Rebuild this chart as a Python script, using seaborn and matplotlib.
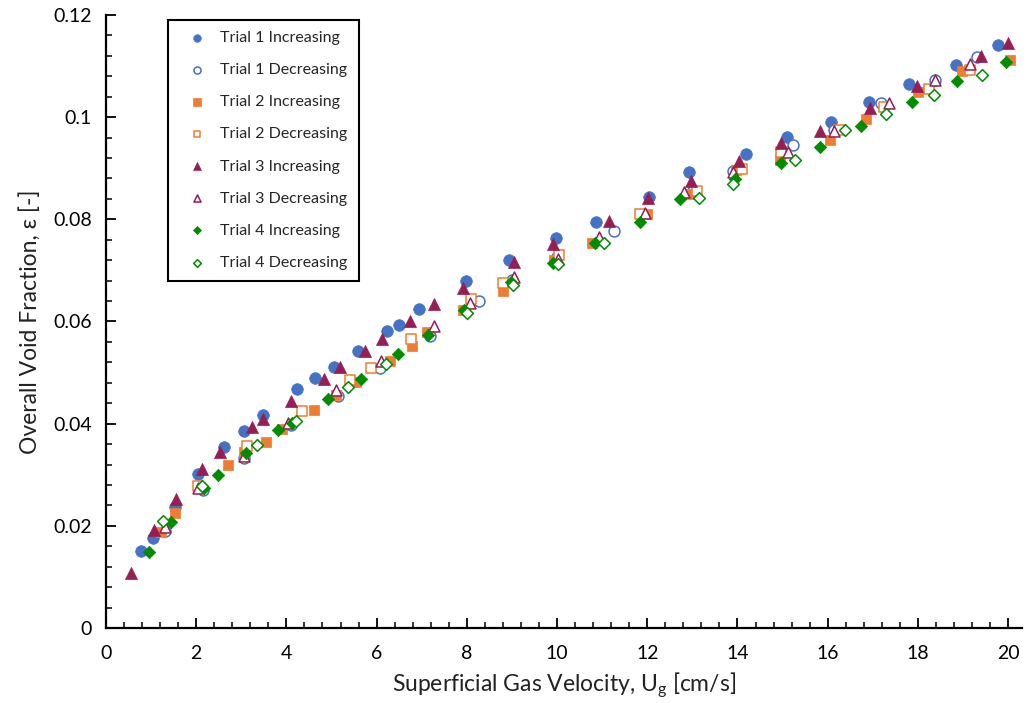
import numpy as np
import pandas as pd
import matplotlib
matplotlib.use("Agg")
import matplotlib.pyplot as plt
from matplotlib.ticker import MultipleLocator, FuncFormatter
import seaborn as sns

# Overall void fraction vs superficial gas velocity, four trials, up/down sweeps
t1_inc_x = [0.77, 1.05, 1.53, 2.03, 2.62, 3.06, 3.47, 4.24, 4.63, 5.05, 5.59, 6.24, 6.50, 6.93,
            7.98, 8.93, 9.98, 10.86, 12.04, 12.93, 14.19, 15.09, 16.07, 16.92, 17.81, 18.85, 19.78]
t1_inc_y = [0.0151, 0.0177, 0.0237, 0.0301, 0.0355, 0.0386, 0.0416, 0.0467, 0.0490, 0.0511, 0.0542,
            0.0581, 0.0593, 0.0625, 0.0679, 0.0720, 0.0764, 0.0794, 0.0844, 0.0893, 0.0927, 0.0962,
            0.0991, 0.1030, 0.1065, 0.1102, 0.1141]

t1_dec_x = [19.30, 18.37, 17.19, 16.13, 15.23, 13.89, 13.02, 11.27, 10.01, 9.01, 8.26, 7.18, 6.08,
            5.14, 4.10, 3.07, 2.14, 1.31]
t1_dec_y = [0.1117, 0.1073, 0.1027, 0.0975, 0.0945, 0.0895, 0.0855, 0.0777, 0.0726, 0.0681, 0.0641,
            0.0572, 0.0508, 0.0455, 0.0397, 0.0333, 0.0270, 0.0189]

t2_inc_x = [1.22, 1.54, 2.05, 2.70, 3.06, 3.55, 3.91, 4.62, 5.11, 5.54, 6.30, 6.78, 7.11, 7.91, 8.81,
            9.93, 10.78, 12.00, 12.92, 13.96, 14.94, 16.06, 16.85, 18.00, 18.97, 20.04]
t2_inc_y = [0.0187, 0.0226, 0.0278, 0.0320, 0.0345, 0.0365, 0.0389, 0.0427, 0.0456, 0.0482, 0.0523,
            0.0552, 0.0580, 0.0623, 0.0660, 0.0720, 0.0754, 0.0810, 0.0850, 0.0897, 0.0916, 0.0955,
            0.0996, 0.1049, 0.1091, 0.1111]

t2_dec_x = [19.16, 18.25, 17.24, 16.26, 14.96, 14.11, 13.10, 11.84, 10.05, 8.81, 8.09, 6.76, 5.87,
            5.40, 4.35, 3.12, 2.03]
t2_dec_y = [0.1092, 0.1055, 0.1019, 0.0974, 0.0931, 0.0899, 0.0856, 0.0810, 0.0730, 0.0676, 0.0644,
            0.0565, 0.0508, 0.0486, 0.0424, 0.0356, 0.0278]

t3_inc_x = [0.55, 1.06, 1.55, 2.12, 2.53, 3.23, 3.48, 4.10, 4.83, 5.19, 5.74, 6.13, 6.74, 7.28, 7.92,
            9.05, 9.92, 11.15, 12.01, 12.98, 14.04, 14.97, 15.83, 16.93, 17.97, 19.41, 19.99]
t3_inc_y = [0.0108, 0.0192, 0.0253, 0.0311, 0.0344, 0.0394, 0.0409, 0.0445, 0.0487, 0.0510, 0.0542,
            0.0566, 0.0601, 0.0634, 0.0665, 0.0717, 0.0751, 0.0796, 0.0841, 0.0875, 0.0915, 0.0949,
            0.0973, 0.1017, 0.1060, 0.1120, 0.1146]

t3_dec_x = [19.16, 18.37, 17.37, 16.15, 15.11, 13.89, 12.82, 11.95, 10.92, 10.03, 9.05, 8.07, 7.27,
            6.10, 5.11, 4.03, 3.07, 2.05, 1.31]
t3_dec_y = [0.1105, 0.1073, 0.1027, 0.0973, 0.0932, 0.0893, 0.0853, 0.0812, 0.0765, 0.0722, 0.0688,
            0.0636, 0.0591, 0.0523, 0.0466, 0.0402, 0.0337, 0.0275, 0.0198]

t4_inc_x = [0.95, 1.44, 2.17, 2.49, 3.10, 3.81, 4.12, 4.93, 5.65, 6.48, 7.15, 7.94, 8.98, 9.92,
            10.84, 11.84, 12.73, 13.95, 14.97, 15.83, 16.74, 17.86, 18.87, 19.96]
t4_inc_y = [0.0148, 0.0208, 0.0275, 0.0300, 0.0343, 0.0388, 0.0402, 0.0448, 0.0487, 0.0536, 0.0573,
            0.0623, 0.0678, 0.0714, 0.0754, 0.0794, 0.0839, 0.0878, 0.0910, 0.0942, 0.0983, 0.1029,
            0.1070, 0.1108]

t4_dec_x = [19.42, 18.35, 17.30, 16.39, 15.28, 13.91, 13.14, 11.03, 10.03, 9.03, 8.00, 6.21, 5.37,
            4.21, 3.34, 2.12, 1.26]
t4_dec_y = [0.1082, 0.1044, 0.1006, 0.0974, 0.0917, 0.0870, 0.0841, 0.0754, 0.0712, 0.0672, 0.0616,
            0.0517, 0.0471, 0.0406, 0.0358, 0.0277, 0.0210]

labels = ["Trial 1 Increasing", "Trial 1 Decreasing", "Trial 2 Increasing", "Trial 2 Decreasing",
          "Trial 3 Increasing", "Trial 3 Decreasing", "Trial 4 Increasing", "Trial 4 Decreasing"]

BLUE, ORANGE, MAROON, GREEN = "#4472C4", "#ED7D31", "#971D55", "#008C00"

series = [
    (t1_inc_x, t1_inc_y, BLUE, "o", True, 70),
    (t1_dec_x, t1_dec_y, BLUE, "o", False, 62),
    (t2_inc_x, t2_inc_y, ORANGE, "s", True, 62),
    (t2_dec_x, t2_dec_y, ORANGE, "s", False, 56),
    (t3_inc_x, t3_inc_y, MAROON, "^", True, 75),
    (t3_dec_x, t3_dec_y, MAROON, "^", False, 62),
    (t4_inc_x, t4_inc_y, GREEN, "D", True, 40),
    (t4_dec_x, t4_dec_y, GREEN, "D", False, 36),
]

sns.set_style("ticks")
plt.rcParams["font.family"] = ["Lato", "DejaVu Sans"]
plt.rcParams["mathtext.fontset"] = "custom"
plt.rcParams["mathtext.rm"] = "Lato"

fig = plt.figure(figsize=(10.33, 7.03), dpi=100)
ax = fig.add_axes([0.1026, 0.1067, 0.8864, 0.872])

for (xs, ys, col, mk, filled, size), lab in zip(series, labels):
    df = pd.DataFrame({"x": xs, "y": ys})
    if filled:
        sns.scatterplot(data=df, x="x", y="y", ax=ax, marker=mk, s=size, color=col,
                        edgecolor=col, linewidth=0.5, label=lab, zorder=3)
    else:
        sns.scatterplot(data=df, x="x", y="y", ax=ax, marker=mk, s=size, color=col,
                        facecolor="white", edgecolor=col, linewidth=1.1, label=lab, zorder=3)

ax.set_xlim(0, 20.3)
ax.set_ylim(0, 0.12)
ax.xaxis.set_major_locator(MultipleLocator(2))
ax.xaxis.set_minor_locator(MultipleLocator(0.4))
ax.yaxis.set_major_locator(MultipleLocator(0.02))
ax.yaxis.set_minor_locator(MultipleLocator(0.004))
ax.yaxis.set_major_formatter(FuncFormatter(lambda v, p: f"{v:g}"))
ax.xaxis.set_major_formatter(FuncFormatter(lambda v, p: f"{v:g}"))

ax.tick_params(which="major", direction="in", length=7, width=1.3, labelsize=14,
               colors="black")
ax.tick_params(which="minor", direction="in", length=4, width=1.3)
ax.tick_params(axis="x", which="major", pad=12)
ax.tick_params(axis="y", which="major", pad=10)

for side in ("top", "right"):
    ax.spines[side].set_visible(False)
for side in ("left", "bottom"):
    ax.spines[side].set_linewidth(1.6)
    ax.spines[side].set_color("black")

ax.set_xlabel(r"Superficial Gas Velocity, U$_\mathregular{g}$ [cm/s]", fontsize=16.5,
              color="#222222", labelpad=7)
ax.set_ylabel("Overall Void Fraction, ε [-]", fontsize=16.5, color="#222222", labelpad=9)

leg = ax.legend(loc="upper left", bbox_to_anchor=(0.068, 0.992), fontsize=11.5,
                frameon=True, fancybox=False, framealpha=1, edgecolor="black",
                markerscale=0.65, handlelength=2.2, handletextpad=0.35,
                labelspacing=1.12, borderpad=0.7, borderaxespad=0)
leg.get_frame().set_linewidth(1.5)

fig.savefig("out.png", dpi=100)
